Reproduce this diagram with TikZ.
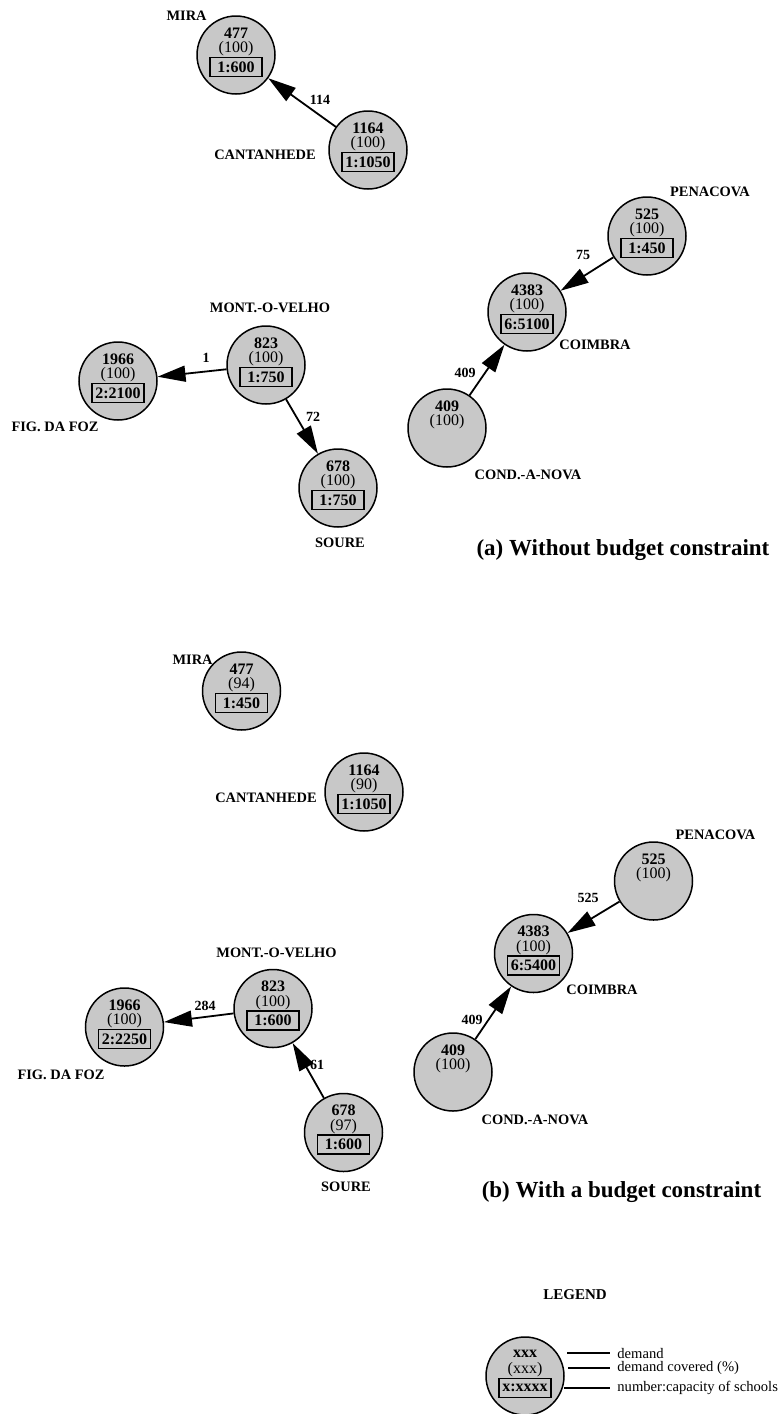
\documentclass[tikz,border=0pt]{standalone}
\usepackage{fontspec}
\setmainfont{Liberation Serif}
\usetikzlibrary{arrows.meta,calc}

\definecolor{towngray}{RGB}{200,200,200}

% one unit = one pixel of the layout grid; y grows downwards
\tikzset{
  town/.style={circle, draw, line width=0.75pt, fill=towngray,
    minimum size=39pt, inner sep=0pt},
  demandtxt/.style={font=\bfseries\fontsize{8}{9}\selectfont, inner sep=0pt},
  covertxt/.style={font=\fontsize{8}{9}\selectfont, inner sep=0pt},
  schoolbox/.style={draw, line width=0.6pt, fill=towngray,
    minimum width=26pt, minimum height=9.5pt, inner sep=1pt,
    font=\bfseries\fontsize{8}{9}\selectfont},
  place/.style={font=\bfseries\fontsize{7.2}{8}\selectfont, inner sep=0pt},
  flow/.style={line width=0.9pt, -{Triangle[length=14pt,width=8pt]}},
  flowlabel/.style={font=\bfseries\fontsize{7}{8}\selectfont, inner sep=0pt},
  heading/.style={font=\bfseries\fontsize{11.5}{13}\selectfont, inner sep=0pt},
  legendtxt/.style={font=\fontsize{7.3}{8}\selectfont, inner sep=0pt, anchor=west},
  legendline/.style={line width=0.8pt},
}

% town with demand, coverage and school box
\newcommand{\towncap}[5]{%
  \node[town] (#1) at (#2) {};
  \node[demandtxt] (#1-d) at ($(#1)+(0,-22)$) {#3};
  \node[covertxt] (#1-c) at ($(#1)+(0,-6)$) {(#4)};
  \node[schoolbox] (#1-s) at ($(#1)+(0,12)$) {#5};
}
% town without a school
\newcommand{\townplain}[4]{%
  \node[town] (#1) at (#2) {};
  \node[demandtxt] (#1-d) at ($(#1)+(0,-22)$) {#3};
  \node[covertxt] (#1-c) at ($(#1)+(0,-6)$) {(#4)};
}

\begin{document}
\begin{tikzpicture}[x=0.5pt, y=-0.5pt]
\useasboundingbox (0,0) rectangle (777,1414);

% ---------------- (a) without budget constraint ----------------
\towncap{miraA}{236,55}{477}{100}{1:600}
\towncap{cantA}{368,150}{1164}{100}{1:1050}
\towncap{figA}{118,381}{1966}{100}{2:2100}
\towncap{montA}{266,365}{823}{100}{1:750}
\towncap{soureA}{338,488}{678}{100}{1:750}
\towncap{penA}{647,236}{525}{100}{1:450}
\towncap{coimA}{527,312}{4383}{100}{6:5100}
\townplain{condA}{447,428}{409}{100}

\node[place, anchor=east] (miraA-n) at (207,16) {MIRA};
\node[place] (cantA-n) at (265,155) {CANTANHEDE};
\node[place] (montA-n) at (270,308) {MONT.-O-VELHO};
\node[place] (figA-n) at (55,427) {FIG. DA FOZ};
\node[place] (soureA-n) at (340,543) {SOURE};
\node[place] (penA-n) at (710,192) {PENACOVA};
\node[place] (coimA-n) at (595,345) {COIMBRA};
\node[place] (condA-n) at (528,475) {COND.-A-NOVA};

\draw[flow] (cantA) -- (miraA);
\draw[flow] (montA) -- (figA);
\draw[flow] (montA) -- (soureA);
\draw[flow] (penA) -- (coimA);
\draw[flow] (condA) -- (coimA);

\node[flowlabel] (fA1) at (320,100) {114};
\node[flowlabel] (fA2) at (206,358) {1};
\node[flowlabel] (fA3) at (313,417) {72};
\node[flowlabel] (fA4) at (583,255) {75};
\node[flowlabel] (fA5) at (465,373) {409};

\node[heading] (titleA) at (623,550) {(a) Without budget constraint};

% ---------------- (b) with a budget constraint ----------------
\towncap{miraB}{241.5,691}{477}{94}{1:450}
\towncap{cantB}{364,792}{1164}{90}{1:1050}
\towncap{figB}{124.5,1027}{1966}{100}{2:2250}
\towncap{montB}{273,1008.5}{823}{100}{1:600}
\towncap{soureB}{343.5,1132.5}{678}{97}{1:600}
\townplain{penB}{653.5,881}{525}{100}
\towncap{coimB}{533.5,953.5}{4383}{100}{6:5400}
\townplain{condB}{453,1072}{409}{100}

\node[place, anchor=east] (miraB-n) at (213,660) {MIRA};
\node[place] (cantB-n) at (266,798) {CANTANHEDE};
\node[place] (montB-n) at (276.5,953) {MONT.-O-VELHO};
\node[place] (figB-n) at (61,1075) {FIG. DA FOZ};
\node[place] (soureB-n) at (346,1187) {SOURE};
\node[place] (penB-n) at (715.5,835) {PENACOVA};
\node[place] (coimB-n) at (602,990) {COIMBRA};
\node[place] (condB-n) at (535,1120) {COND.-A-NOVA};

\draw[flow] (montB) -- (figB);
\draw[flow] (soureB) -- (montB);
\draw[flow] (penB) -- (coimB);
\draw[flow] (condB) -- (coimB);

\node[flowlabel] (fB1) at (205,1006) {284};
\node[flowlabel] (fB2) at (317,1065) {61};
\node[flowlabel] (fB3) at (588,898) {525};
\node[flowlabel] (fB4) at (472,1020) {409};

\node[heading] (titleB) at (621.5,1192) {(b) With a budget constraint};

% ---------------- legend ----------------
\node[place, font=\bfseries\fontsize{7.5}{9}\selectfont] (legend) at (575,1295) {LEGEND};
\towncap{key}{525,1376}{xxx}{xxx}{x:xxxx}

\coordinate (k1) at (567,1353);
\coordinate (k2) at (568,1368);
\coordinate (k3) at (564,1388);
\node[legendtxt] (k1t) at (617,1353) {demand};
\node[legendtxt] (k2t) at (617,1368) {demand covered (\%)};
\node[legendtxt] (k3t) at (617,1388) {number:capacity of schools};
\draw[legendline] (k1) -- ([xshift=-3.5pt]k1t.west);
\draw[legendline] (k2) -- ([xshift=-3.5pt]k2t.west);
\draw[legendline] (k3) -- ([xshift=-3.5pt]k3t.west);
\end{tikzpicture}
\end{document}
